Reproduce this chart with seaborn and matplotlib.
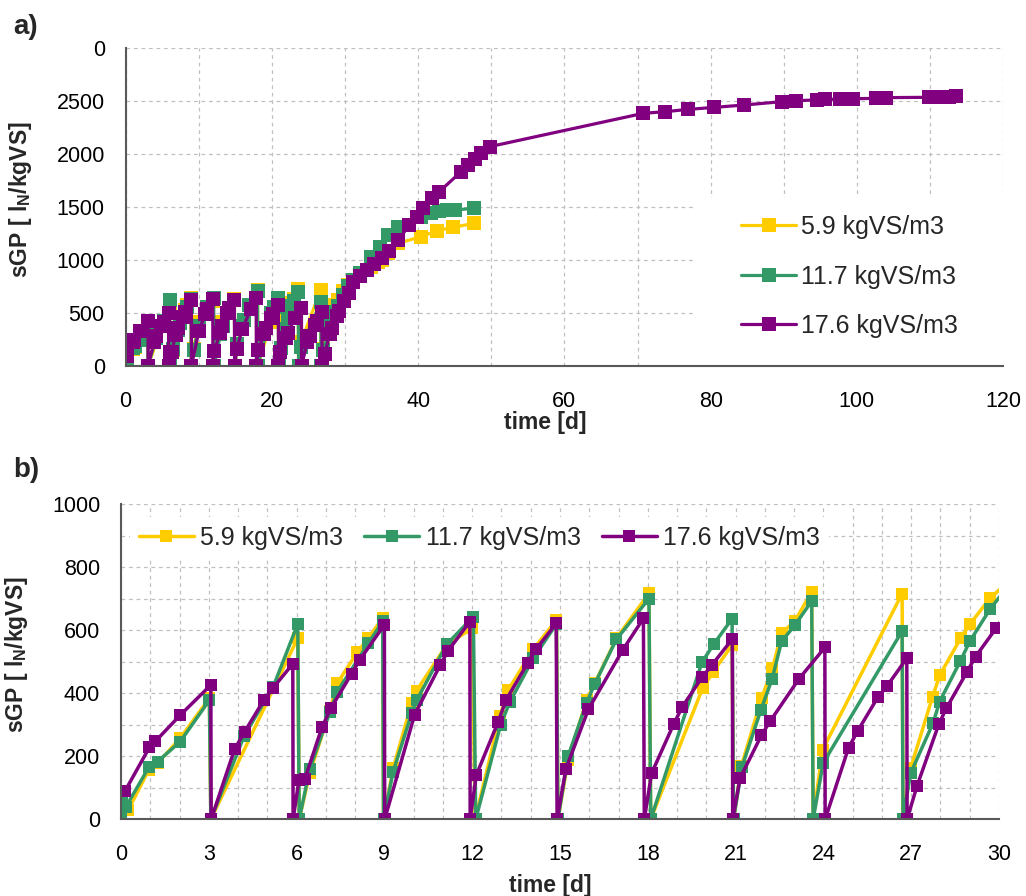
import matplotlib
matplotlib.use("Agg")
import matplotlib.pyplot as plt
import seaborn as sns
import pandas as pd
from matplotlib.lines import Line2D
from matplotlib.patches import Rectangle
from matplotlib.ticker import MultipleLocator

# ---- data: specific gas production vs time for three substrate loads ----
series_labels = ["5.9 kgVS/m3", "11.7 kgVS/m3", "17.6 kgVS/m3"]
series_colors = ["#FFCC00", "#339966", "#800080"]

t_59 = [0, 0.25, 0.95, 1.25, 2.02, 3.02, 3.07, 6.04, 6.09, 6.45, 7.14, 7.39, 8.08, 8.45,
        8.94, 8.97, 9.3, 9.93, 10.1, 11.13, 12.0, 12.1, 12.95, 13.23, 14.09, 14.88, 14.93,
        15.28, 15.91, 16.19, 16.93, 18.04, 18.1, 19.87, 20.24, 20.88, 20.93, 21.2, 21.89,
        22.26, 22.57, 23.03, 23.6, 23.65, 23.97, 26.69, 26.72, 26.98, 27.73, 27.98, 28.69,
        29.0, 29.69, 30.4, 31.1, 32.0, 33.0, 33.6, 34.5, 35.06, 35.9, 37.3, 40.4, 42.6,
        44.8, 47.6]
sgp_59 = [0, 30, 157, 178, 257, 384, 0, 575, 0, 146, 345, 432, 530, 575,
          638, 0, 162, 368, 408, 553, 606, 0, 328, 410, 540, 632, 0,
          188, 378, 432, 574, 717, 0, 415, 468, 553, 0, 170, 384,
          479, 590, 629, 722, 0, 220, 716, 0, 162, 389, 458, 574,
          618, 701, 760, 810, 860, 905, 935, 975, 997, 1060, 1155, 1217, 1274,
          1305, 1343]

t_117 = [0, 0.02, 0.17, 0.95, 1.25, 2.02, 3.02, 3.07, 4.21, 5.2, 6.04, 6.09, 6.45, 7.14,
         7.39, 8.45, 8.94, 8.97, 9.3, 9.93, 10.1, 11.13, 12.04, 12.12, 12.97, 13.29, 14.09,
         14.88, 14.93, 15.28, 15.91, 16.19, 16.93, 18.04, 18.1, 19.85, 20.25, 20.88, 20.93,
         21.22, 21.87, 22.25, 22.57, 23.02, 23.6, 23.65, 23.99, 26.69, 26.72, 26.98, 27.75,
         27.97, 28.68, 29.0, 29.69, 30.4, 31.1, 32.0, 33.6, 34.8, 35.9, 37.3, 40.4, 41.8,
         42.9, 44.0, 45.1, 47.6]
sgp_117 = [0, 77, 40, 165, 183, 246, 378, 0, 265, 420, 620, 0, 160, 341,
           405, 558, 628, 0, 151, 336, 377, 555, 643, 0, 299, 373, 511,
           620, 0, 201, 370, 430, 571, 700, 0, 498, 555, 636, 0,
           167, 348, 446, 564, 615, 692, 0, 178, 597, 0, 146, 306,
           373, 502, 564, 666, 750, 805, 870, 1028, 1120, 1235, 1311, 1406, 1437,
           1462, 1469, 1469, 1485]

t_176 = [0.14, 0.97, 1.17, 2.02, 3.07, 3.08, 3.88, 4.22, 4.88, 5.19, 5.87, 5.88, 6.08, 6.28,
         6.87, 7.17, 7.88, 8.16, 9.0, 9.01, 10.03, 10.9, 11.18, 11.92, 11.93, 12.14, 12.89,
         13.16, 13.9, 14.18, 14.87, 14.9, 15.2, 15.97, 17.15, 17.85, 17.88, 18.13, 18.88,
         19.18, 19.86, 20.18, 20.89, 20.9, 21.15, 21.88, 22.18, 23.17, 24.05, 24.06, 24.86,
         25.17, 25.86, 26.17, 26.85, 26.86, 27.2, 27.94, 28.2, 28.91, 29.2, 29.9, 30.5,
         31.1, 32.0, 33.0, 34.0, 35.0, 36.0, 37.3, 38.8, 39.8, 40.67, 41.95, 42.9, 45.86,
         46.8, 47.75, 48.64, 49.76, 70.8, 73.7, 76.9, 80.5, 84.5, 89.75, 91.6, 94.5, 95.6,
         97.7, 99.5, 102.6, 104.0, 109.8, 111.2, 112.6, 113.5]
sgp_176 = [90, 228, 247, 330, 426, 0, 222, 277, 378, 416, 493, 0, 125, 127,
           293, 352, 462, 506, 617, 0, 331, 488, 535, 627, 0, 140, 310,
           379, 496, 540, 621, 0, 159, 349, 538, 637, 0, 146, 301,
           357, 451, 488, 572, 0, 130, 266, 311, 446, 545, 0, 227,
           280, 387, 422, 511, 0, 106, 301, 352, 468, 516, 606, 690,
           790, 850, 905, 960, 1020, 1080, 1186, 1327, 1406, 1484, 1579, 1642, 1830,
           1893, 1947, 2003, 2066, 2381, 2396, 2418, 2437, 2459, 2491, 2500, 2507, 2513,
           2513, 2519, 2522, 2529, 2532, 2538, 2538, 2540]

a_yticks = [0, 500, 1000, 1500, 2000, 2500, 3000]
a_ytick_labels = ["0", "500", "1000", "1500", "2000", "2500", "0"]

df = pd.concat([
    pd.DataFrame({"t": t_59, "sgp": sgp_59, "series": series_labels[0]}),
    pd.DataFrame({"t": t_117, "sgp": sgp_117, "series": series_labels[1]}),
    pd.DataFrame({"t": t_176, "sgp": sgp_176, "series": series_labels[2]}),
], ignore_index=True)

# ---- style ----
sns.set_theme(style="white")
plt.rcParams["font.family"] = ["Liberation Sans", "DejaVu Sans"]
plt.rcParams["mathtext.fontset"] = "custom"
plt.rcParams["mathtext.rm"] = "Liberation Sans:bold"
plt.rcParams["mathtext.it"] = "Liberation Sans:bold"
plt.rcParams["mathtext.bf"] = "Liberation Sans:bold"

W, H = 1026, 896
fig = plt.figure(figsize=(W / 100, H / 100), dpi=100)
fig.patch.set_facecolor("white")

ax_a = fig.add_axes([125.6 / W, 1 - 365.7 / H, 877.6 / W, 318 / H])
ax_b = fig.add_axes([121 / W, 1 - 819.3 / H, 878 / W, 315.3 / H])

AXIS_COLOR = "#595959"
GRID_KW = dict(color="#C0C0C0", linestyle=(0, (3, 3)), linewidth=0.9)
YLABEL = r"sGP [ l$_{\mathrm{N}}$/kgVS]"


def draw_series(ax, ms, lw):
    sns.lineplot(data=df, x="t", y="sgp", hue="series", hue_order=series_labels,
                 palette=series_colors, marker="s", markersize=ms, markeredgewidth=0,
                 linewidth=lw, sort=False, estimator=None, legend=False, ax=ax)


def style_axes(ax):
    ax.set_facecolor("white")
    for side in ("top", "right"):
        ax.spines[side].set_visible(False)
    for side in ("left", "bottom"):
        ax.spines[side].set_color(AXIS_COLOR)
        ax.spines[side].set_linewidth(1.5)
    ax.tick_params(axis="both", which="both", direction="out", length=7, width=1.2,
                   color=AXIS_COLOR, labelcolor="black", labelsize=15.5)
    ax.tick_params(axis="x", which="both", pad=11)
    ax.tick_params(axis="y", which="both", pad=8)
    ax.set_axisbelow(True)
    ax.set_xlabel("time [d]", fontsize=16.5, fontweight="bold")
    ax.set_ylabel(YLABEL, fontsize=16.5, fontweight="bold")


def legend_handles(ms, lw):
    return [Line2D([], [], color=c, marker="s", markersize=ms, markeredgewidth=0, linewidth=lw)
            for c in series_colors]


# ---- panel a: full run ----
draw_series(ax_a, 10, 2.3)
style_axes(ax_a)
ax_a.set_xlim(0, 120)
ax_a.set_ylim(0, 3000)
ax_a.xaxis.set_major_locator(MultipleLocator(20))
ax_a.xaxis.set_minor_locator(MultipleLocator(10))
ax_a.set_yticks(a_yticks)
ax_a.set_yticklabels(a_ytick_labels)
ax_a.grid(True, axis="x", which="both", **GRID_KW)
ax_a.grid(True, axis="y", which="major", **GRID_KW)
ax_a.add_patch(Rectangle((0.648, 0), 0.36, 0.527, transform=ax_a.transAxes,
                         facecolor="white", edgecolor="none", zorder=1))
ax_a.legend(legend_handles(10, 2.3), series_labels, loc="upper left",
            bbox_to_anchor=(741 / W, 1 - 215 / H), bbox_transform=fig.transFigure,
            frameon=False, fontsize=18, handlelength=2.2, handletextpad=0.2,
            labelspacing=1.02, borderpad=0, borderaxespad=0)
ax_a.yaxis.set_label_coords(-0.104, 0.521)
ax_a.xaxis.set_label_coords(0.478, -0.143)

# ---- panel b: first 30 days ----
draw_series(ax_b, 8.5, 2.5)
style_axes(ax_b)
ax_b.set_xlim(0, 30)
ax_b.set_ylim(0, 1000)
ax_b.xaxis.set_major_locator(MultipleLocator(3))
ax_b.xaxis.set_minor_locator(MultipleLocator(1))
ax_b.yaxis.set_major_locator(MultipleLocator(200))
ax_b.yaxis.set_minor_locator(MultipleLocator(100))
ax_b.grid(True, which="both", **GRID_KW)
ax_b.legend(legend_handles(8.5, 2.5), series_labels, loc="upper left", ncol=3,
            bbox_to_anchor=(130 / W, 1 - 517 / H), bbox_transform=fig.transFigure,
            frameon=True, facecolor="white", edgecolor="none", framealpha=1,
            fancybox=False, fontsize=18, handlelength=2.2, handletextpad=0.25,
            columnspacing=0.85, borderpad=0.35, borderaxespad=0)
ax_b.yaxis.set_label_coords(-0.104, 0.521)
ax_b.xaxis.set_label_coords(0.4886, -0.1735)

# ---- panel tags ----
fig.text(13 / W, 1 - 14 / H, "a)", fontsize=20, fontweight="bold", va="top", ha="left")
fig.text(13 / W, 1 - 457 / H, "b)", fontsize=20, fontweight="bold", va="top", ha="left")

fig.savefig("out.png", dpi=100, facecolor="white")
